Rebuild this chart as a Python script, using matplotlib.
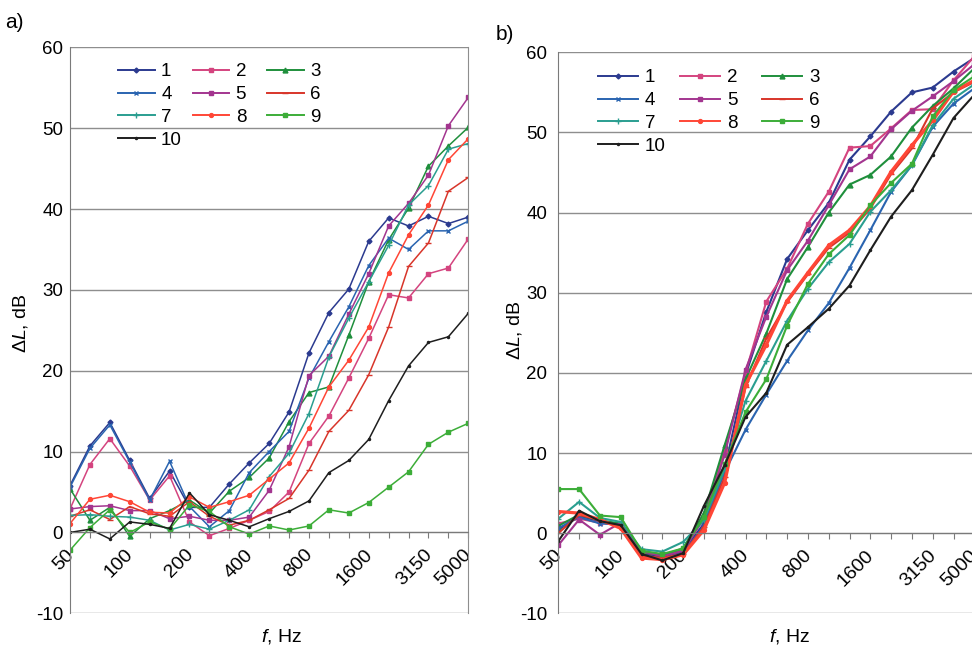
import matplotlib.pyplot as plt
import matplotlib.transforms as mtransforms
from matplotlib.lines import Line2D

plt.rcParams['font.family'] = ['Liberation Sans', 'DejaVu Sans']
plt.rcParams['mathtext.fontset'] = 'custom'
plt.rcParams['mathtext.rm'] = 'Liberation Sans'
plt.rcParams['mathtext.it'] = 'Liberation Sans:italic'
plt.rcParams['axes.unicode_minus'] = False

# 1/3 octave bands
freqs = ['50', '63', '80', '100', '125', '160', '200', '250', '315', '400', '500',
         '630', '800', '1000', '1250', '1600', '2000', '2500', '3150', '4000', '5000']
shown = ['50', '100', '200', '400', '800', '1600', '3150', '5000']
names = ['1', '2', '3', '4', '5', '6', '7', '8', '9', '10']

# panel a)
a1 = [5.8, 10.7, 13.6, 8.9, 4.2, 7.6, 3.1, 3.1, 6.0, 8.6, 11.0, 14.9, 22.2, 27.2, 30.1, 36.0, 38.9, 37.9, 39.1, 38.2, 39.0]
a2 = [2.9, 8.4, 11.6, 8.2, 4.0, 7.0, 1.3, -0.4, 0.5, 1.5, 2.6, 5.0, 11.0, 14.4, 19.1, 24.0, 29.4, 29.0, 32.0, 32.7, 36.3]
a3 = [5.4, 1.5, 3.1, -0.5, 1.7, 2.7, 4.0, 2.4, 5.1, 6.8, 9.2, 13.7, 17.3, 18.0, 24.4, 31.0, 36.2, 40.1, 45.3, 47.8, 50.1]
a4 = [5.6, 10.4, 13.3, 8.7, 4.0, 8.8, 3.2, 0.7, 2.7, 7.4, 10.0, 12.5, 19.1, 23.6, 27.9, 33.0, 36.4, 35.0, 37.3, 37.3, 38.5]
a5 = [2.9, 3.2, 3.3, 2.7, 2.7, 1.7, 2.0, 1.5, 1.5, 1.9, 5.2, 10.6, 19.4, 21.8, 27.0, 32.0, 37.9, 40.7, 44.2, 50.3, 53.8]
a6 = [2.0, 2.8, 1.6, 3.2, 2.3, 2.0, 3.8, 2.0, 0.9, 1.5, 2.8, 4.2, 7.7, 12.5, 15.1, 19.5, 25.4, 32.9, 35.8, 42.2, 43.9]
a7 = [2.1, 2.2, 2.0, 1.9, 1.5, 0.3, 1.0, 0.4, 1.5, 2.8, 6.9, 9.8, 14.7, 21.7, 26.5, 31.0, 35.5, 40.5, 42.9, 47.4, 48.1]
a8 = [1.1, 4.1, 4.6, 3.8, 2.5, 2.4, 4.4, 3.1, 3.8, 4.6, 6.6, 8.6, 12.9, 18.0, 21.3, 25.4, 32.1, 36.8, 40.5, 46.1, 48.7]
a9 = [-2.2, 0.6, 2.8, 0.0, 1.3, 0.4, 3.4, 2.6, 0.7, -0.2, 0.8, 0.3, 0.8, 2.8, 2.4, 3.7, 5.6, 7.5, 10.9, 12.4, 13.5]
a10 = [0.0, 0.4, -0.8, 1.3, 1.0, 0.5, 4.9, 2.2, 1.5, 0.7, 1.7, 2.6, 3.9, 7.4, 8.9, 11.5, 16.3, 20.6, 23.5, 24.2, 27.1]

# panel b)
b1 = [0.4, 2.2, 1.4, 1.0, -2.5, -3.0, -2.3, 1.2, 8.0, 19.7, 27.6, 34.2, 37.8, 41.2, 46.6, 49.5, 52.6, 55.0, 55.6, 57.6, 59.3]
b2 = [1.2, 1.8, 1.3, 1.0, -2.4, -2.7, -2.0, 2.0, 10.4, 20.0, 28.9, 33.0, 38.6, 42.6, 48.1, 48.3, 50.5, 52.8, 52.9, 56.5, 59.5]
b3 = [0.9, 2.3, 1.6, 1.2, -2.3, -2.8, -1.9, 2.5, 11.0, 19.2, 24.9, 31.7, 35.7, 40.0, 43.5, 44.7, 47.0, 50.6, 53.3, 55.5, 58.0]
b4 = [0.6, 2.0, 1.2, 1.1, -2.7, -3.2, -2.5, 0.9, 7.6, 12.9, 17.3, 21.5, 25.3, 28.7, 33.1, 37.8, 42.6, 45.9, 50.7, 53.6, 55.5]
b5 = [-1.5, 1.7, -0.2, 1.3, -2.2, -2.9, -2.2, 1.8, 9.8, 20.4, 27.0, 32.8, 36.5, 40.9, 45.4, 47.0, 50.4, 52.7, 54.5, 56.4, 58.5]
b6 = [0.0, 2.3, 1.6, 0.8, -2.8, -3.1, -2.6, 0.8, 7.0, 18.2, 24.3, 28.8, 32.3, 35.6, 37.5, 40.5, 44.8, 48.0, 53.0, 55.0, 56.3]
b7 = [1.8, 3.9, 1.9, 1.4, -2.0, -2.3, -1.1, 1.6, 8.0, 16.5, 21.5, 26.5, 30.5, 33.8, 36.1, 40.1, 42.8, 45.9, 50.9, 54.2, 56.0]
b8 = [2.7, 2.5, 1.7, 0.6, -3.1, -3.3, -2.7, 0.4, 6.3, 18.5, 23.5, 29.0, 32.5, 35.9, 37.8, 40.8, 45.1, 48.4, 51.5, 55.1, 56.5]
b9 = [5.5, 5.5, 2.2, 2.0, -2.2, -2.6, -1.9, 2.0, 8.6, 15.1, 19.2, 25.9, 31.1, 34.8, 37.2, 40.9, 43.7, 46.1, 52.0, 55.3, 57.0]
b10 = [-1.0, 2.8, 1.5, 1.0, -2.6, -3.4, -2.5, 3.4, 8.5, 14.5, 17.5, 23.5, 25.7, 28.0, 30.9, 35.3, 39.5, 42.8, 47.2, 51.8, 54.7]

colors = ['#2b3a8f', '#d4447f', '#1f8f3c', '#2a64b0', '#a3358f',
          '#d8352a', '#2a9e90', '#ff4636', '#3cad38', '#1e1e1e']
markers = ['D', 's', '^', 'x', 's', '_', '+', 'o', 's', '.']
msizes = [2.5, 2.2, 3.5, 3.0, 3.0, 4.0, 4.0, 2.8, 3.0, 3.0]

fig = plt.figure(figsize=(9.72, 6.47), dpi=100)
W, H = 972.0, 647.0

axa = fig.add_axes([70 / W, 1 - 613.3 / H, 398.3 / W, 566.0 / H])
axb = fig.add_axes([558.3 / W, 1 - 613.3 / H, 416.0 / W, 561.0 / H])

x = list(range(len(freqs)))


def setup(ax, ypad):
    ax.set_xlim(0, 20)
    ax.set_ylim(-10, 60)
    ax.set_yticks(range(-10, 61, 10))
    ax.yaxis.grid(True, color='#8e8e8e', linewidth=1.0)
    ax.set_axisbelow(True)
    ax.spines['top'].set_visible(False)
    ax.spines['right'].set_color('#8e8e8e')
    ax.spines['left'].set_color('#7a7a7a')
    ax.spines['bottom'].set_position(('data', 0))
    ax.spines['bottom'].set_color('#7a7a7a')
    ax.set_xticks(x)
    ax.set_xticklabels([f if f in shown else '' for f in freqs],
                       rotation=45, ha='right', va='top', rotation_mode='anchor')
    ax.tick_params(axis='x', direction='out', length=4, color='#7a7a7a',
                   labelsize=14, pad=3)
    ax.tick_params(axis='y', length=0, labelsize=13.5, pad=ypad)
    # nudge rotated labels a little left and down, as in the original
    shift = mtransforms.ScaledTranslation(-5 / 100, -4 / 100, fig.dpi_scale_trans)
    for lab in ax.get_xticklabels():
        lab.set_transform(lab.get_transform() + shift)
    ax.set_facecolor('white')


def legend(ax, x0, y0, pitch, hl, rowgap):
    # Excel-like legend laid out row by row in three columns
    handles = []
    for i in range(10):
        handles.append(Line2D([], [], color=colors[i], marker=markers[i],
                              markersize=msizes[i], linewidth=1.4))
    cols = [[0, 3, 6, 9], [1, 4, 7], [2, 5, 8]]
    for c, idx in enumerate(cols):
        leg = ax.legend([handles[i] for i in idx], [names[i] for i in idx],
                        loc='upper left',
                        bbox_to_anchor=((x0 + c * pitch) / W, 1 - y0 / H),
                        bbox_transform=fig.transFigure, frameon=False,
                        borderpad=0, borderaxespad=0, handlelength=hl,
                        handletextpad=0.35, labelspacing=rowgap, fontsize=13.5)
        if c < len(cols) - 1:
            ax.add_artist(leg)


setup(axa, 5)
for i, s in enumerate([a1, a2, a3, a4, a5, a6, a7, a8, a9, a10]):
    axa.plot(x, s, color=colors[i], marker=markers[i], markersize=msizes[i],
             linewidth=1.1, label=names[i])
legend(axa, 118, 63, 74.5, 1.95, 0.31)

setup(axb, 8)
axb.spines['right'].set_visible(False)
for i, s in enumerate([b1, b2, b3, b4, b5, b6, b7, b8, b9, b10]):
    lw = 2.3 if i == 7 else 1.5
    axb.plot(x, s, color=colors[i], marker=markers[i], markersize=msizes[i],
             linewidth=lw, label=names[i])
legend(axb, 598, 69, 82, 2.15, 0.31)

fig.text(5 / W, 1 - 22 / H, 'a)', fontsize=15, va='center', ha='left')
fig.text(496 / W, 1 - 34 / H, 'b)', fontsize=15, va='center', ha='left')
fig.text(20 / W, 1 - 323 / H, r'$\Delta \mathit{L}$, dB', rotation=90,
         fontsize=14, ha='center', va='center')
fig.text(514 / W, 1 - 330 / H, r'$\Delta \mathit{L}$, dB', rotation=90,
         fontsize=14, ha='center', va='center')
fig.text(282 / W, 1 - 636 / H, r'$\mathit{f}$, Hz', fontsize=14,
         ha='center', va='center')
fig.text(790 / W, 1 - 637 / H, r'$\mathit{f}$, Hz', fontsize=14,
         ha='center', va='center')

fig.savefig('out.png', dpi=100)
